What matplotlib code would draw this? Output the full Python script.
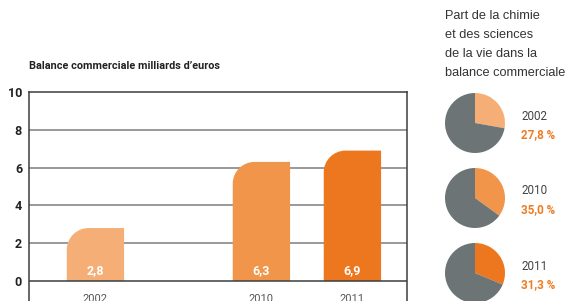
import numpy as np
import matplotlib
matplotlib.use("Agg")
import matplotlib.pyplot as plt
from matplotlib.path import Path
from matplotlib.patches import PathPatch

# data
years = ["2002", "2010", "2011"]
balance = [2.8, 6.3, 6.9]
balance_labels = ["2,8", "6,3", "6,9"]
share = [27.8, 35.0, 31.3]
share_labels = ["27,8 %", "35,0 %", "31,3 %"]
bar_colors = ["#F5AF76", "#F1954A", "#ED771F"]

GRAY_PIE = "#6C7475"
ORANGE_TXT = "#EE7C23"
DARK = "#3A3D3F"

W, H = 567, 301
fig = plt.figure(figsize=(W / 100, H / 100), dpi=100)

# ---- bar chart ----
ax = fig.add_axes([29 / W, 0, 378 / W, 209 / H])
x_pos = [0, 1.824, 2.824]
bar_w = 0.63
rx, ry = 0.24, 1.15  # corner radius in data units (px -> data)
k = 0.5523


def rounded_bar(x, h, color):
    x0, x1 = x - bar_w / 2, x + bar_w / 2
    verts = [(x0, 0), (x0, h - ry),
             (x0, h - ry + k * ry), (x0 + rx - k * rx, h), (x0 + rx, h),
             (x1, h), (x1, 0), (x0, 0)]
    codes = [Path.MOVETO, Path.LINETO,
             Path.CURVE4, Path.CURVE4, Path.CURVE4,
             Path.LINETO, Path.LINETO, Path.CLOSEPOLY]
    ax.add_patch(PathPatch(Path(verts, codes), facecolor=color, edgecolor="none", zorder=3))


for yv in [2, 4, 6, 8]:
    ax.axhline(yv, color="#7A7E80", lw=1.1, zorder=1)
ax.axhline(0, color=DARK, lw=1.1, zorder=4)

for x, v, lab, c, yr in zip(x_pos, balance, balance_labels, bar_colors, years):
    rounded_bar(x, v, c)
    ax.text(x, 0.55, lab, color="white", ha="center", va="center",
            fontsize=9, fontweight="bold", family="Roboto", zorder=5)
    ax.text(x, -0.95, yr, color="#555", ha="center", va="center",
            fontsize=8, family="Roboto")

ax.set_xlim(-0.73, 3.424)
ax.set_ylim(-1.06, 10)
for s in ["left", "right", "top"]:
    ax.spines[s].set_color(DARK)
    ax.spines[s].set_linewidth(1.1)
ax.spines["bottom"].set_visible(False)
ax.set_xticks([])
ax.set_yticks([0, 2, 4, 6, 8, 10])
ax.set_yticklabels(["0", "2", "4", "6", "8", "10"], fontsize=9,
                   fontweight="bold", family="Roboto", color="#222")
ax.tick_params(axis="y", length=0, pad=5)
ax.patch.set_alpha(0)

fig.text(29 / W, 1 - 66 / H, "Balance commerciale milliards d\u2019euros",
         fontsize=7.8, fontweight="bold", family="Roboto", color="#222",
         ha="left", va="center")

# ---- pies ----
fig.text(445 / W, 1 - 10 / H,
         "Part de la chimie\net des sciences\nde la vie dans la\nbalance commerciale",
         fontsize=9.2, family="Liberation Sans", color="#333",
         ha="left", va="top", linespacing=1.78)

centers_y = [123, 198, 273]
r = 30
for cy, p, plab, c, yr in zip(centers_y, share, share_labels, bar_colors, years):
    pax = fig.add_axes([(475 - r) / W, (H - cy - r) / H, 2 * r / W, 2 * r / H])
    pax.pie([p, 100 - p], colors=[c, GRAY_PIE], startangle=90, counterclock=False,
            radius=1, wedgeprops=dict(linewidth=0))
    pax.set_xlim(-1, 1)
    pax.set_ylim(-1, 1)
    pax.set_aspect("equal")
    pax.axis("off")
    fig.text(521 / W, 1 - (cy - 7) / H, yr, fontsize=8.4, family="Roboto",
             color="#444", ha="left", va="center")
    fig.text(521 / W, 1 - (cy + 12) / H, plab, fontsize=8.4, family="Roboto",
             fontweight="bold", color=ORANGE_TXT, ha="left", va="center")

fig.savefig("out.png", dpi=100)
